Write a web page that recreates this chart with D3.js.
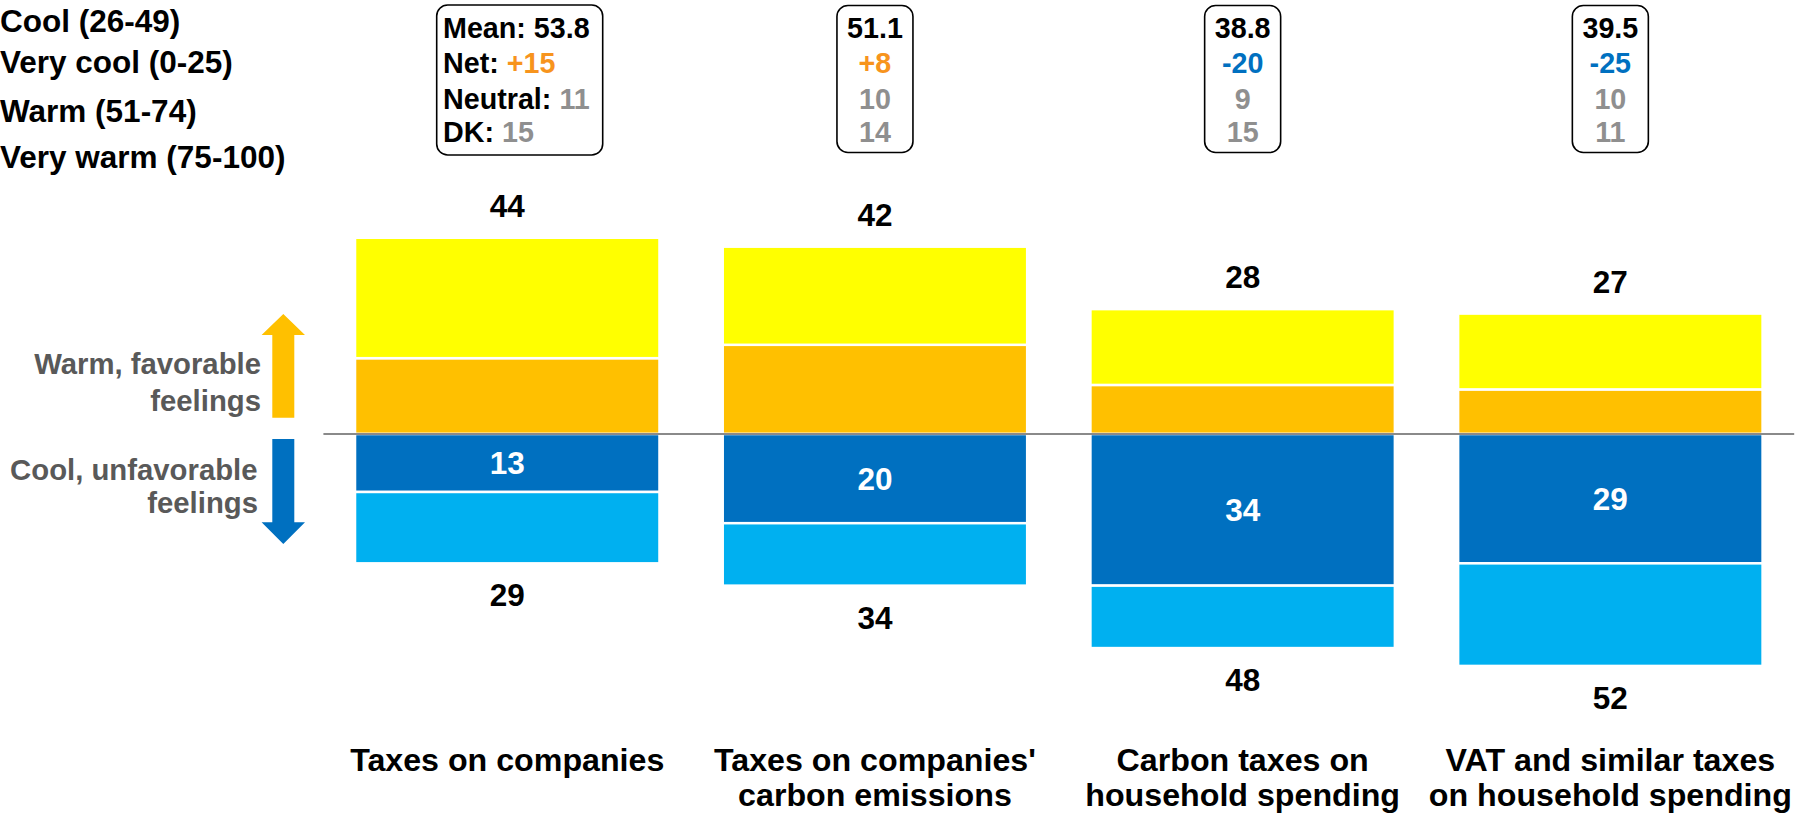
<!DOCTYPE html>
<html>
<head>
<meta charset="utf-8">
<script src="https://cdn.jsdelivr.net/npm/d3@7/dist/d3.min.js"></script>
<style>
  html, body { margin: 0; padding: 0; background: #fff; }
  svg { display: block; }
  text { font-family: "Liberation Sans", Arial, sans-serif; font-weight: bold; }
</style>
</head>
<body>
<svg id="chart" width="1806" height="813"></svg>
<script>
// Feeling thermometer ratings of four kinds of taxes (percent of respondents)
const categories = [
  "Taxes on companies",
  "Taxes on companies' carbon emissions",
  "Carbon taxes on household spending",
  "VAT and similar taxes on household spending"
];
const categoryLines = [
  ["Taxes on companies"],
  ["Taxes on companies'", "carbon emissions"],
  ["Carbon taxes on", "household spending"],
  ["VAT and similar taxes", "on household spending"]
];
const veryWarm = [17, 20, 11, 10];   // inner warm segment
const warm     = [27, 22, 17, 17];   // outer warm segment
const veryCool = [13, 20, 34, 29];   // inner cool segment
const cool     = [16, 14, 14, 23];   // outer cool segment
const means    = [53.8, 51.1, 38.8, 39.5];
const netScores = [15, 8, -20, -25];
const neutral  = [11, 10, 9, 10];
const dontKnow = [15, 14, 15, 11];
const legendLabels = ["Cool (26-49)", "Very cool (0-25)", "Warm (51-74)", "Very warm (75-100)"];

const colors = {
  veryWarm: "#FFC000", warm: "#FFFF00",
  veryCool: "#0070C0", cool: "#00B0F0",
  pos: "#F7941D", neg: "#0070C0", grey: "#8F8F8F", side: "#595959"
};

const svg = d3.select("#chart");

const x = d3.scaleBand()
  .domain(categories)
  .range([323.4, 1794.2])
  .paddingInner(0.172)
  .paddingOuter(0.086);

const y = d3.scaleLinear().domain([-60, 60]).range([701.6, 166.4]);

// Stacked segments: warm above zero, cool below
const segments = [];
categories.forEach((c, i) => {
  segments.push({ c, y0: 0, y1: veryWarm[i], fill: colors.veryWarm });
  segments.push({ c, y0: veryWarm[i], y1: veryWarm[i] + warm[i], fill: colors.warm });
  segments.push({ c, y0: -veryCool[i], y1: 0, fill: colors.veryCool });
  segments.push({ c, y0: -veryCool[i] - cool[i], y1: -veryCool[i], fill: colors.cool });
});

svg.append("g").selectAll("rect")
  .data(segments)
  .join("rect")
  .attr("x", d => x(d.c))
  .attr("width", x.bandwidth())
  .attr("y", d => y(d.y1))
  .attr("height", d => y(d.y0) - y(d.y1))
  .attr("fill", d => d.fill)
  .attr("stroke", "#fff")
  .attr("stroke-width", 2.5);

// Zero line
svg.append("line")
  .attr("x1", x.range()[0]).attr("x2", x.range()[1])
  .attr("y1", y(0)).attr("y2", y(0))
  .attr("stroke", "#8A8A8A").attr("stroke-width", 2);

const cx = c => x(c) + x.bandwidth() / 2;

// Totals above and below, plus inner cool value
const lab = svg.append("g").attr("text-anchor", "middle").attr("font-size", 31.5);
categories.forEach((c, i) => {
  const warmTotal = veryWarm[i] + warm[i];
  const coolTotal = veryCool[i] + cool[i];
  lab.append("text").attr("x", cx(c)).attr("y", y(warmTotal) - 21).attr("fill", "#000").text(warmTotal);
  lab.append("text").attr("x", cx(c)).attr("y", y(-coolTotal) + 43).attr("fill", "#000").text(coolTotal);
  lab.append("text").attr("x", cx(c)).attr("y", y(-veryCool[i] / 2) + 11).attr("fill", "#fff").text(veryCool[i]);
});

// Category labels
categories.forEach((c, i) => {
  const t = svg.append("text").attr("text-anchor", "middle").attr("font-size", 32.2).attr("fill", "#000");
  categoryLines[i].forEach((line, k) => {
    t.append("tspan").attr("x", cx(c)).attr("y", 770.5 + k * 35.5).text(line);
  });
});

// Summary boxes
const fmtNet = v => (v > 0 ? "+" : "") + v;
const netColor = v => v >= 0 ? colors.pos : colors.neg;
const rowY = [37.5, 73, 108.5, 141.5];
categories.forEach((c, i) => {
  const g = svg.append("g").attr("font-size", 28.7);
  if (i === 0) {
    g.append("rect").attr("x", 436.7).attr("y", 5).attr("width", 166).attr("height", 150)
      .attr("rx", 11).attr("fill", "#fff").attr("stroke", "#000").attr("stroke-width", 1.6);
    const tx = 443;
    const rows = [
      ["Mean: ", means[i].toFixed(1), "#000"],
      ["Net: ", fmtNet(netScores[i]), netColor(netScores[i])],
      ["Neutral: ", neutral[i], colors.grey],
      ["DK: ", dontKnow[i], colors.grey]
    ];
    rows.forEach((r, k) => {
      const t = g.append("text").attr("x", tx).attr("y", rowY[k]);
      t.append("tspan").attr("fill", "#000").text(r[0]);
      t.append("tspan").attr("fill", r[2]).text(r[1]);
    });
  } else {
    const w = 76;
    g.append("rect").attr("x", cx(c) - w / 2).attr("y", 5.5).attr("width", w).attr("height", 147)
      .attr("rx", 11).attr("fill", "#fff").attr("stroke", "#000").attr("stroke-width", 1.6);
    const vals = [
      [means[i].toFixed(1), "#000"],
      [fmtNet(netScores[i]), netColor(netScores[i])],
      [neutral[i], colors.grey],
      [dontKnow[i], colors.grey]
    ];
    vals.forEach((v, k) => {
      g.append("text").attr("x", cx(c)).attr("y", rowY[k]).attr("text-anchor", "middle")
        .attr("fill", v[1]).text(v[0]);
    });
  }
});

// Legend text (top left)
const legendY = [32, 73, 121.5, 168];
svg.append("g").attr("font-size", 31.5).selectAll("text")
  .data(legendLabels)
  .join("text")
  .attr("x", 0)
  .attr("y", (d, i) => legendY[i])
  .attr("fill", "#000")
  .text(d => d);

// Direction arrows with side labels
const ax = 283.3, shaftHalf = 11, headHalf = 21.7;
const upArrow = [
  [ax, 314], [ax + headHalf, 335], [ax + shaftHalf, 335], [ax + shaftHalf, 417.7],
  [ax - shaftHalf, 417.7], [ax - shaftHalf, 335], [ax - headHalf, 335]
];
const downArrow = [
  [ax - shaftHalf, 439], [ax + shaftHalf, 439], [ax + shaftHalf, 522.3], [ax + headHalf, 522.3],
  [ax, 544], [ax - headHalf, 522.3], [ax - shaftHalf, 522.3]
];
svg.append("polygon").attr("points", upArrow.map(p => p.join(",")).join(" ")).attr("fill", colors.veryWarm);
svg.append("polygon").attr("points", downArrow.map(p => p.join(",")).join(" ")).attr("fill", colors.veryCool);

const side = svg.append("g").attr("font-size", 29.3).attr("fill", colors.side).attr("text-anchor", "end");
side.append("text").attr("x", 261).attr("y", 374).text("Warm, favorable");
side.append("text").attr("x", 261).attr("y", 410.5).text("feelings");
side.append("text").attr("x", 257.5).attr("y", 479.5).text("Cool, unfavorable");
side.append("text").attr("x", 258).attr("y", 513).text("feelings");
</script>
</body>
</html>
